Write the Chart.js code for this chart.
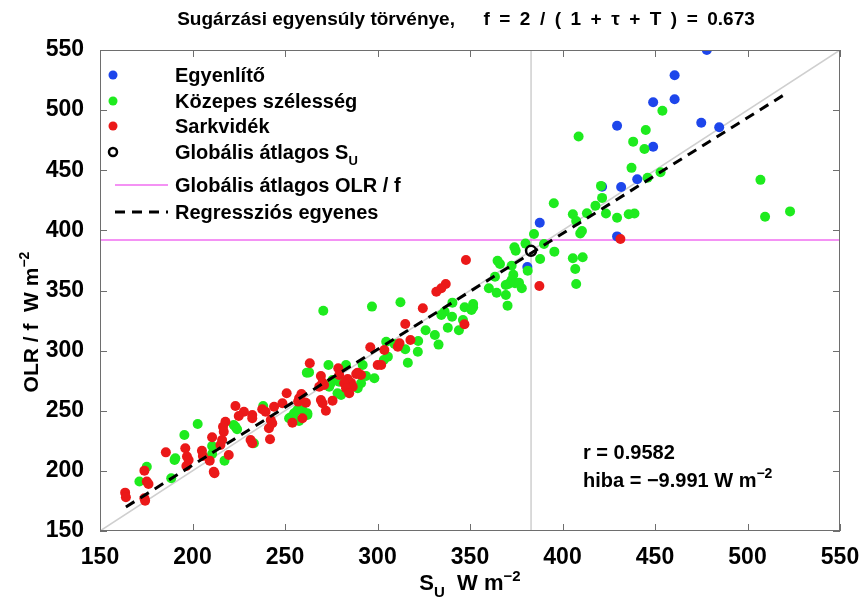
<!DOCTYPE html>
<html><head><meta charset="utf-8">
<script src="https://cdn.jsdelivr.net/npm/chart.js@4"></script>
<style>html,body{margin:0;padding:0;background:#fff}canvas{display:block}</style>
</head><body>
<canvas id="c" width="865" height="607" style="width:865px;height:607px"></canvas>
<script>
// Egyenlítő (equator)
const egyX = [478,460.6,460.6,449,475,484.7,429.5,449,440.4,431.7,421.4,387.7,429.5,381];
const egyY = [550,529,509,506.5,489.5,485.7,487,469.6,442.5,436,436.3,406.4,395,369.5];
// Közepes szélesség (mid-latitude)
const kozX = [408.7,454,445,438.2,444.3,437.3,446,453,420.8,421.4,417.8,395.3,405.6,413.2,423.5,429.5,435.8,438.9,407.4,410.5,409.6,384.6,507,509.5,523,
  380,390,374,374.7,395.6,387.9,405.6,410.9,406.9,407.4,364.9,366.2,372.5,381.2,373.4,372.5,369.3,370.7,374.3,376.5,378,360.2,364.4,369.4,370.3,351.7,347.1,351.7,340.5,363.5,
  336.3,334.5,340.3,346.2,350.8,270.7,297,312.4,309.2,315,321.8,304.7,305.6,303.4,316.4,263,273.5,283,292,298.3,293.8,275.7,279.3,291.1,289.3,274.8,273.9,278.4,280.3,
  326,331,338,344,322,333,
  261.8,259.4,256.7,238.2,252.2,257.6,262.1,253.1,254.9,262.1,223.2,222.3,224.1,202.8,195.6,210.6,190.7,210.6,217.3,190.3,188.5,175.3,171.3,233.2];
const kozY = [478,499.5,483.5,473.8,467.7,452,443.8,448.3,437,427,420.5,422.5,413.4,414.2,414,410.5,413.4,414,407.8,399.5,397.5,397,442,411.4,415.8,
  389,388.7,386,383,382.3,376.2,376.8,377.6,367.9,355.4,374.8,372,370.6,366.5,363,358.7,354.6,355.4,356,356.5,351.8,351.8,348.2,346.3,337.4,338.8,336,336,339.9,361.5,
  332.4,329.6,328.2,325.5,333.8,333.2,336.6,340.2,305.5,301.1,299.1,307.4,295,292.2,289.9,281.9,288,288,288,277,278.9,275.6,274.2,272.8,268.7,272.8,270,264.5,263.1,
  317,313,319,317,308,305,
  281.7,250.6,250.6,254,243.7,241.5,246.5,244.5,247.9,247.9,236.7,238.2,234.6,239,229.8,220.7,210.4,214,208.5,209,193.8,203.5,191.1,223];
// Sarkvidék (polar)
const sarX = [431.3,347.8,336.9,334.5,331.8,387.5,324.5,315,317.8,296.1,303.7,311,311.9,300.1,302,263.4,278.8,279.3,289.3,291.1,288.5,269.4,283.9,285.7,286.6,271.1,268.5,270.3,282,283,284.7,269.4,270.3,275.7,272.1,347,
  250.9,257.6,257.1,261.3,258.9,248.6,244.1,237.7,239.5,232.3,232.3,227.8,225,223.2,242.3,241.3,243.1,241.9,254,259.4,217.8,216.5,216.9,210.6,216,215.1,231.4,232.3,219.6,196.1,197,197.9,205.1,205.6,209.3,196.7,185.6,211.5,211.9,174,175.3,176.2,174,174.4,163.6,164];
const sarY = [392.8,375.4,355.4,351.8,349,353.7,335.2,322.2,308.8,302.8,300.5,303.3,306.1,288,288,289.5,285.3,279.7,281.7,279.7,280.5,278.9,276.4,273.3,270,271.4,270,273.4,272.8,268.7,264.5,259,256.2,258.4,250,322,
  264.5,260.3,257.6,256.7,263.9,256.2,253.4,251.2,249.2,246.5,243.7,249.2,245.6,254,242.3,235.4,239.6,226.3,240,243.7,240.9,236.7,232.6,227.9,225.7,221.5,225.7,223,213.2,218.8,211.9,209.1,216.8,212.4,208.5,204,215.4,199.3,198,200.2,191.1,189.1,177.2,175.2,181.9,178];
// Globális átlagos S_U
const meanX = [383], meanY = [383];
// Globális átlagos OLR / f
const olrMean = 392;
// Regressziós egyenes endpoints
const regX = [164,520], regY = [170,513];
const xTicks = [150,200,250,300,350,400,450,500,550];
const yTicks = [150,200,250,300,350,400,450,500,550];

const zip = (xs, ys) => xs.map((x, i) => ({x, y: ys[i]}));
const BLUE = 'rgb(30,70,235)', GREEN = 'rgb(30,235,30)', RED = 'rgb(235,25,25)', MAG = 'rgb(240,110,240)';
const FONT = 'Liberation Sans, Arial, sans-serif';

function drawRich(ctx, x, y, segs, align) {
  let w = 0;
  segs.forEach(s => { ctx.font = 'bold ' + s.size + 'px ' + FONT; w += ctx.measureText(s.t).width; });
  let cx = align === 'center' ? x - w / 2 : x;
  segs.forEach(s => {
    ctx.font = 'bold ' + s.size + 'px ' + FONT;
    ctx.fillText(s.t, cx, y + (s.dy || 0));
    cx += ctx.measureText(s.t).width;
  });
}

const deco = {
  id: 'deco',
  afterDraw(chart) {
    const ctx = chart.ctx, a = chart.chartArea, xs = chart.scales.x, ys = chart.scales.y;
    ctx.save();
    ctx.strokeStyle = '#6e6e6e'; ctx.lineWidth = 1;
    ctx.strokeRect(a.left + 0.5, a.top + 0.5, a.right - a.left - 1, a.bottom - a.top - 1);
    ctx.beginPath();
    xTicks.forEach(v => { const p = Math.round(xs.getPixelForValue(v)) + 0.5;
      ctx.moveTo(p, a.bottom); ctx.lineTo(p, a.bottom - 7); ctx.moveTo(p, a.top); ctx.lineTo(p, a.top + 7); });
    yTicks.forEach(v => { const p = Math.round(ys.getPixelForValue(v)) + 0.5;
      ctx.moveTo(a.left, p); ctx.lineTo(a.left + 7, p); ctx.moveTo(a.right, p); ctx.lineTo(a.right - 7, p); });
    ctx.stroke();
    ctx.fillStyle = '#000'; ctx.textBaseline = 'alphabetic'; ctx.textAlign = 'left';
    // title
    const sp = '\u2002';
    drawRich(ctx, 466, 25, [{t: 'Sugárzási egyensúly törvénye,' + sp + sp + sp + 'f' + sp + '=' + sp + '2' + sp + '/' + sp + '(' + sp + '1' + sp + '+' + sp + 'τ' + sp + '+' + sp + 'T' + sp + ')' + sp + '=' + sp + '0.673', size: 19}], 'center');
    // x title
    drawRich(ctx, 470, 590, [{t: 'S', size: 22}, {t: 'U', size: 15, dy: 7}, {t: '  W m', size: 22}, {t: '−2', size: 15, dy: -9}], 'center');
    // y title
    ctx.save(); ctx.translate(38, 322); ctx.rotate(-Math.PI / 2);
    drawRich(ctx, 0, 0, [{t: 'OLR / f  W m', size: 21}, {t: '−2', size: 14, dy: -9}], 'center');
    ctx.restore();
    // legend
    const lx = 113, tx = 175;
    const rows = [75, 101, 126, 152, 185, 212];
    [BLUE, GREEN, RED].forEach((c, i) => { ctx.beginPath(); ctx.fillStyle = c; ctx.arc(lx, rows[i], 4.5, 0, Math.PI * 2); ctx.fill(); });
    ctx.beginPath(); ctx.strokeStyle = '#000'; ctx.lineWidth = 2.5; ctx.arc(lx, rows[3], 4, 0, Math.PI * 2); ctx.stroke();
    ctx.beginPath(); ctx.strokeStyle = MAG; ctx.lineWidth = 1.5; ctx.moveTo(115, rows[4]); ctx.lineTo(168, rows[4]); ctx.stroke();
    ctx.beginPath(); ctx.strokeStyle = '#000'; ctx.lineWidth = 3; ctx.setLineDash([10, 7]); ctx.moveTo(115, rows[5]); ctx.lineTo(168, rows[5]); ctx.stroke();
    ctx.setLineDash([]);
    ctx.fillStyle = '#000';
    const ls = 20;
    drawRich(ctx, tx, rows[0] + 7, [{t: 'Egyenlítő', size: ls}]);
    drawRich(ctx, tx, rows[1] + 7, [{t: 'Közepes szélesség', size: ls}]);
    drawRich(ctx, tx, rows[2] + 7, [{t: 'Sarkvidék', size: ls}]);
    drawRich(ctx, tx, rows[3] + 7, [{t: 'Globális átlagos S', size: ls}, {t: 'U', size: 13, dy: 6}]);
    drawRich(ctx, tx, rows[4] + 7, [{t: 'Globális átlagos OLR / f', size: ls}]);
    drawRich(ctx, tx, rows[5] + 7, [{t: 'Regressziós egyenes', size: ls}]);
    // stats
    drawRich(ctx, 583, 459, [{t: 'r = 0.9582', size: 20}]);
    drawRich(ctx, 583, 487, [{t: 'hiba = −9.991 W m', size: 20}, {t: '−2', size: 14, dy: -9}]);
    ctx.restore();
  }
};

const tickFont = {family: FONT, weight: 'bold', size: 23};
new Chart(document.getElementById('c'), {
  type: 'scatter',
  data: {
    datasets: [
      {label: 'Regressziós egyenes', type: 'line', data: zip(regX, regY), borderColor: '#000', borderWidth: 3, borderDash: [10, 7], pointRadius: 0, fill: false, order: 0},
      {label: 'Globális átlagos S_U', data: zip(meanX, meanY), pointRadius: 5, pointBorderWidth: 2.5, pointBorderColor: '#000', pointBackgroundColor: 'rgba(255,255,255,1)', order: 1},
      {label: 'Sarkvidék', data: zip(sarX, sarY), pointRadius: 5, pointBorderWidth: 0, pointBackgroundColor: RED, borderColor: RED, order: 2},
      {label: 'Közepes szélesség', data: zip(kozX, kozY), pointRadius: 5, pointBorderWidth: 0, pointBackgroundColor: GREEN, borderColor: GREEN, order: 3},
      {label: 'Egyenlítő', data: zip(egyX, egyY), pointRadius: 5, pointBorderWidth: 0, pointBackgroundColor: BLUE, borderColor: BLUE, order: 4},
      {label: 'Globális átlagos OLR / f', type: 'line', data: [{x: 150, y: olrMean}, {x: 550, y: olrMean}], borderColor: MAG, borderWidth: 1.5, pointRadius: 0, order: 5},
      {label: 'mean S_U line', type: 'line', data: [{x: meanX[0], y: 150}, {x: meanX[0], y: 550}], borderColor: '#cfcfcf', borderWidth: 1.5, pointRadius: 0, order: 6},
      {label: '1:1', type: 'line', data: [{x: 150, y: 150}, {x: 550, y: 550}], borderColor: '#cfcfcf', borderWidth: 1.5, pointRadius: 0, order: 7}
    ]
  },
  options: {
    responsive: false, animation: false, events: [],
    layout: {padding: {left: 0, right: 25, top: 50, bottom: 0}},
    plugins: {legend: {display: false}, tooltip: {enabled: false}},
    scales: {
      x: {type: 'linear', min: 150, max: 550,
        afterBuildTicks: s => { s.ticks = xTicks.map(v => ({value: v})); },
        ticks: {font: tickFont, color: '#000', padding: 5, maxRotation: 0, autoSkip: false},
        grid: {display: false}, border: {display: false},
        afterFit: s => { s.height = 76; }},
      y: {type: 'linear', min: 150, max: 550,
        afterBuildTicks: s => { s.ticks = yTicks.map(v => ({value: v})); },
        ticks: {font: tickFont, color: '#000', padding: 8, autoSkip: false},
        grid: {display: false}, border: {display: false},
        afterFit: s => { s.width = 100; }}
    }
  },
  plugins: [deco]
});
</script>
</body></html>
